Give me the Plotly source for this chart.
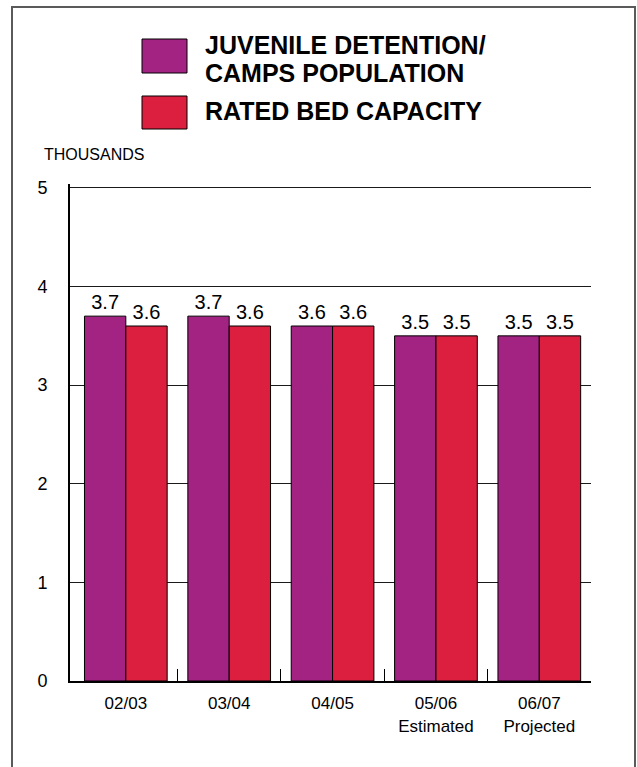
import plotly.graph_objects as go

# ---- data ----
categories = ["02/03", "03/04", "04/05", "05/06", "06/07"]
tick_labels = ["02/03", "03/04", "04/05", "05/06<br>Estimated", "06/07<br>Projected"]
population = [3.7, 3.7, 3.6, 3.5, 3.5]
bed_capacity = [3.6, 3.6, 3.6, 3.5, 3.5]
series_names = ["JUVENILE DETENTION/ CAMPS POPULATION", "RATED BED CAPACITY"]

# ---- styles ----
W, H = 637, 767
L, R, T, B = 70, 591, 184, 681
PURPLE = "#A32383"
RED = "#DC1F3F"
NARROW = "Liberation Sans Narrow, Arial Narrow, Liberation Sans, Arial, sans-serif"
REG = "Liberation Sans, Arial, sans-serif"


def px_x(px):
    return (px - L) / (R - L)


def px_y(py):
    return (B - py) / (B - T)


fig = go.Figure()
for name, vals, col in [(series_names[0], population, PURPLE), (series_names[1], bed_capacity, RED)]:
    fig.add_trace(go.Bar(
        x=categories, y=vals, name=name,
        marker=dict(color=col, line=dict(color="black", width=1)),
        texttemplate="%{y:.1f}", textposition="outside",
        textfont=dict(family=REG, size=20, color="black"),
        cliponaxis=False, showlegend=False,
    ))

# invisible trace for the tick-only overlay axis
fig.add_trace(go.Scatter(x=[None], y=[None], xaxis="x2", showlegend=False, hoverinfo="skip"))

fig.update_layout(
    width=W, height=H, autosize=False,
    margin=dict(l=L, r=W - R, t=T, b=H - B, pad=0),
    paper_bgcolor="white", plot_bgcolor="white",
    barmode="group", bargap=0.2, bargroupgap=0,
    xaxis=dict(
        type="category", range=[-0.54, 4.5],
        tickvals=categories, ticktext=tick_labels,
        ticks="", showgrid=False,
        showline=True, linecolor="black", linewidth=2,
        tickfont=dict(family=NARROW, size=17, color="black"),
        ticklabelstandoff=6,
    ),
    xaxis2=dict(
        overlaying="x", anchor="y", side="bottom",
        range=[-0.54, 4.5], tickvals=[0.5, 1.5, 2.5, 3.5, 4.5],
        ticks="inside", ticklen=12, tickwidth=1, tickcolor="black",
        showticklabels=False, showgrid=False, showline=False, zeroline=False,
    ),
    yaxis=dict(
        range=[0, 5.04], tickvals=[0, 1, 2, 3, 4, 5],
        showgrid=True, gridcolor="#1a1a1a", gridwidth=1,
        zeroline=False, showline=True, linecolor="black", linewidth=2,
        ticks="", ticklabelstandoff=17,
        tickfont=dict(family=NARROW, size=18, color="black"),
    ),
)

shapes = [
    # outer border
    dict(type="rect", xref="paper", yref="paper",
         x0=px_x(12), x1=px_x(635), y0=px_y(7), y1=px_y(820),
         line=dict(color="#5a5a5a", width=2), fillcolor="rgba(0,0,0,0)", layer="below"),
    # legend swatches
    dict(type="rect", xref="paper", yref="paper",
         x0=px_x(142), x1=px_x(187), y0=px_y(39), y1=px_y(73),
         line=dict(color="black", width=1), fillcolor=PURPLE),
    dict(type="rect", xref="paper", yref="paper",
         x0=px_x(142), x1=px_x(187), y0=px_y(96), y1=px_y(129),
         line=dict(color="black", width=1), fillcolor=RED),
]
fig.update_layout(shapes=shapes)

ann_font = dict(family="Liberation Sans, Arial, sans-serif", size=25, color="black")
annotations = [
    dict(text="<b>JUVENILE DETENTION/</b>", x=px_x(203), y=px_y(45)),
    dict(text="<b>CAMPS POPULATION</b>", x=px_x(203), y=px_y(73)),
    dict(text="<b>RATED BED CAPACITY</b>", x=px_x(203), y=px_y(111)),
]
for a in annotations:
    a.update(xref="paper", yref="paper", xanchor="left", yanchor="middle",
             showarrow=False, font=ann_font)
annotations.append(dict(text="THOUSANDS", x=px_x(42), y=px_y(155), xref="paper", yref="paper",
                        xanchor="left", yanchor="middle", showarrow=False,
                        font=dict(family=NARROW, size=16, color="black")))
fig.update_layout(annotations=annotations)

fig.write_html("out.html")
